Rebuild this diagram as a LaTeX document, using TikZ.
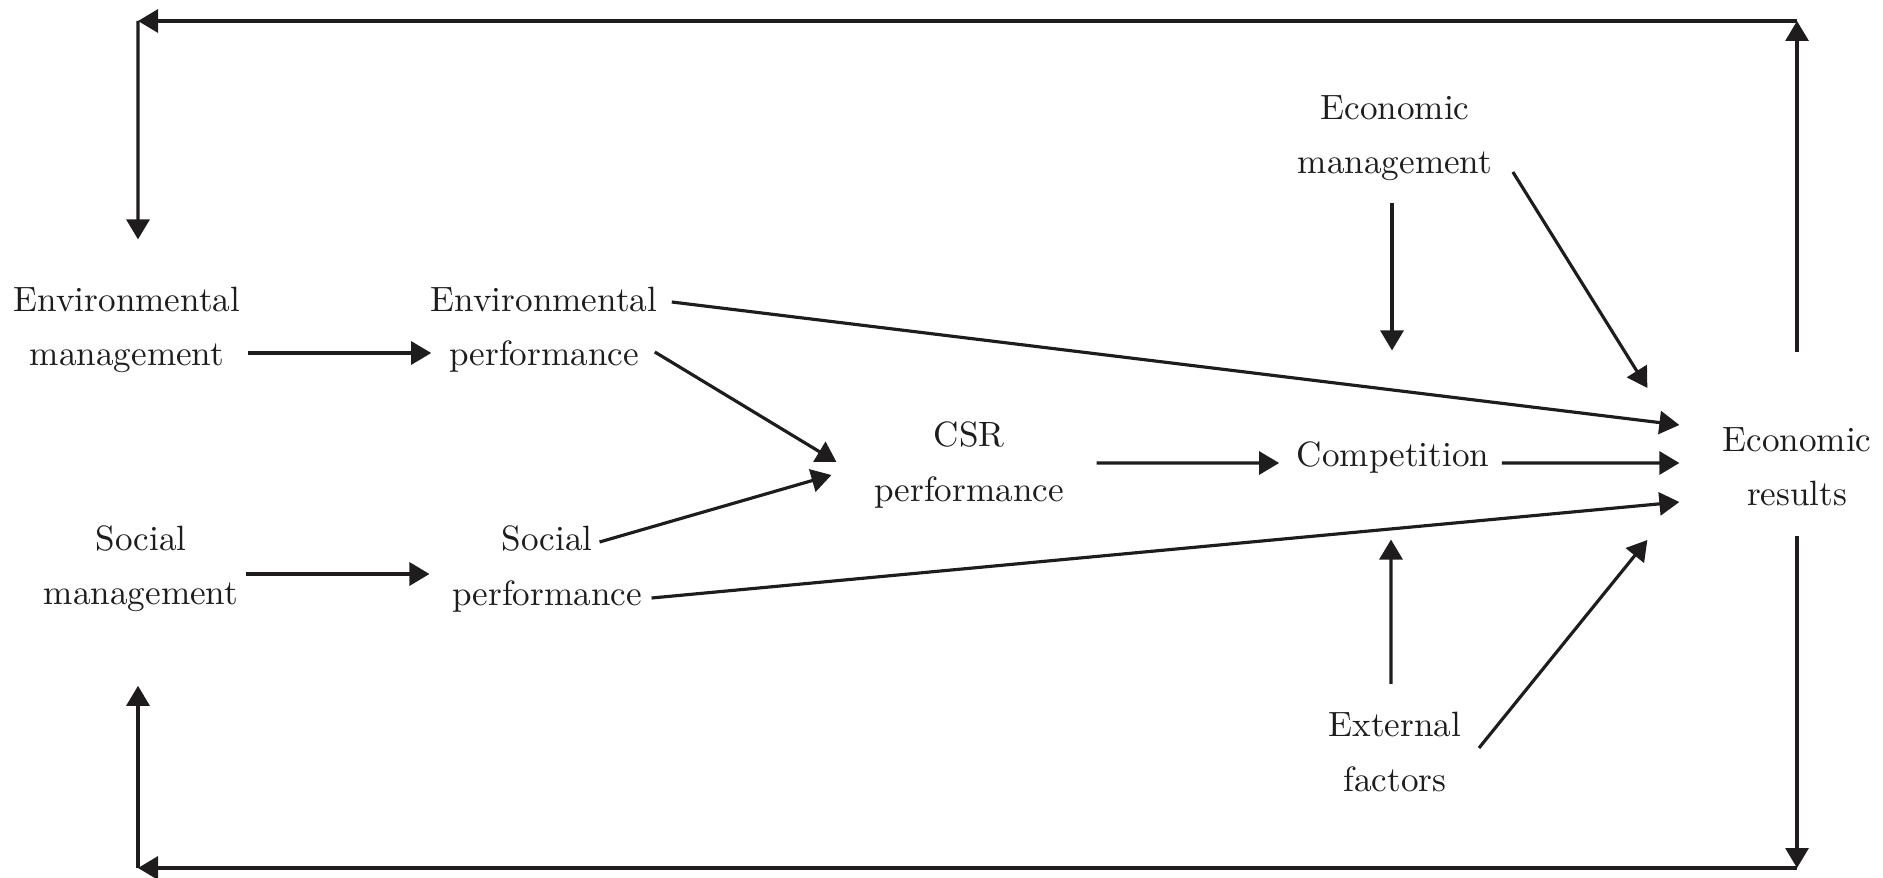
\documentclass[tikz,border=0pt]{standalone}
\usepackage{tikz}
\usetikzlibrary{arrows.meta}
\definecolor{InkBlack}{RGB}{30, 28, 28}
\tikzset{
  lbl/.style={align=center, inner sep=2pt, text=InkBlack, font=\fontsize{10}{15.4}\selectfont},
  arr/.style={-{Triangle[length=2mm, width=2.3mm]}, line width=0.9pt, InkBlack},
}

\begin{document}
\begin{tikzpicture}
    \useasboundingbox (0,0) rectangle (18.83,8.77);
    % Nodes
    \node[lbl] (envm) at (1.27,5.47) {Environmental\\management};
    \node[lbl] (envp) at (5.44,5.47) {Environmental\\performance};
    \node[lbl] (socm) at (1.41,3.08) {Social\\management};
    \node[lbl] (socp) at (5.47,3.08) {Social\\performance};
    \node[lbl] (csr) at (9.69,4.12) {CSR\\performance};
    \node[lbl] (comp) at (13.93,4.19) {Competition};
    \node[lbl] (econm) at (13.95,7.39) {Economic\\management};
    \node[lbl] (extf) at (13.95,1.25) {External\\factors};
    \node[lbl, inner xsep=0.425cm] (econr) at (17.97,4.10) {Economic\\results};
    % Management to performance
    \draw[arr] ([yshift=-0.23cm]envm.east) -- ([shift={(0.08,-0.23)}]envp.west);
    \draw[arr] ([yshift=-0.05cm]socm.east) -- ([shift={(-0.15,-0.05)}]socp.west);
    % Into CSR
    \draw[arr] ([shift={(-0.10,-0.22)}]envp.east) -- ([shift={(-0.30,0.03)}]csr.west);
    \draw[arr] ([shift={(-0.50,0.27)}]socp.east) -- ([shift={(-0.35,-0.10)}]csr.west);
    % Direct to results
    \draw[arr] ([shift={(0.07,0.28)}]envp.east) -- ([yshift=0.42cm]econr.west);
    \draw[arr] ([shift={(0.02,-0.29)}]socp.east) -- ([yshift=-0.35cm]econr.west);
    % Competition chain
    \draw[arr] ([shift={(0.25,0.02)}]csr.east) -- ([shift={(-0.10,-0.05)}]comp.west);
    \draw[arr] ([shift={(0.05,-0.05)}]comp.east) -- ([yshift=0.04cm]econr.west);
    % Economic management and external factors
    \draw[arr] ([shift={(-0.03,-0.15)}]econm.south) -- ([shift={(-0.01,0.84)}]comp.north);
    \draw[arr] ([shift={(0.13,-0.34)}]econm.east) -- ([shift={(-0.32,0.79)}]econr.west);
    \draw[arr] ([shift={(-0.04,0.21)}]extf.north) -- ([shift={(-0.02,-0.58)}]comp.south);
    \draw[arr] ([shift={(0.10,0.04)}]extf.east) -- ([shift={(-0.32,-0.73)}]econr.west);
    % Feedback loops
    \coordinate (tr) at (17.97,8.56);
    \coordinate (tl) at (1.38,8.56);
    \coordinate (br) at (17.97,0.09);
    \coordinate (bl) at (1.38,0.09);
    \draw[arr] ([yshift=0.68cm]econr.north) -- (tr);
    \draw[arr] (tr) -- (tl);
    \draw[arr] (tl) -- ([shift={(0.11,0.40)}]envm.north);
    \draw[arr] ([yshift=-0.22cm]econr.south) -- (br);
    \draw[arr] (br) -- (bl);
    \draw[arr] (bl) -- ([shift={(-0.03,-0.66)}]socm.south);
\end{tikzpicture}
\end{document}
